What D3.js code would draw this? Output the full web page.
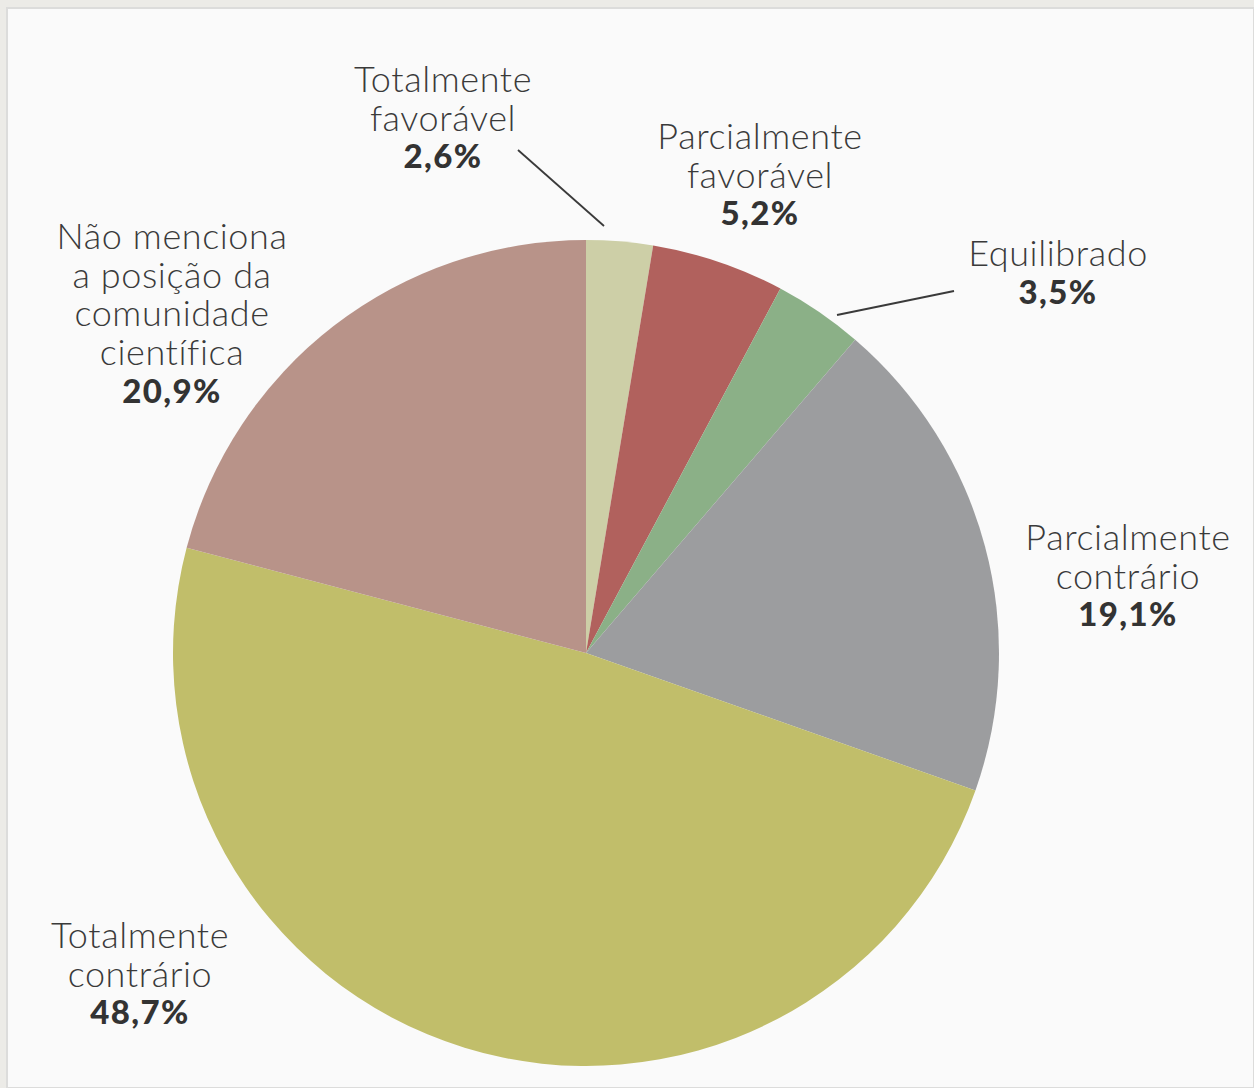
<!DOCTYPE html>
<html>
<head>
<meta charset="utf-8">
<script src="https://cdn.jsdelivr.net/npm/d3@7"></script>
<style>
  html, body { margin: 0; padding: 0; background: #ecebe7; }
  svg { display: block; }
</style>
</head>
<body>
<svg id="chart" width="1254" height="1088"></svg>
<script>
// Posição das notícias em relação à comunidade científica (%)
const categories = [
  "Totalmente favorável",
  "Parcialmente favorável",
  "Equilibrado",
  "Parcialmente contrário",
  "Totalmente contrário",
  "Não menciona a posição da comunidade científica"
];
const values = [2.6, 5.2, 3.5, 19.1, 48.7, 20.9];
const valueLabels = ["2,6%", "5,2%", "3,5%", "19,1%", "48,7%", "20,9%"];
// Line breaks used for each category label
const labelLines = [
  ["Totalmente", "favorável"],
  ["Parcialmente", "favorável"],
  ["Equilibrado"],
  ["Parcialmente", "contrário"],
  ["Totalmente", "contrário"],
  ["Não menciona", "a posição da", "comunidade", "científica"]
];

// Styling and layout
const colors = ["#cdcfa7", "#b1615d", "#8bb087", "#9c9d9f", "#c1be6a", "#b89389"];
const labelAnchors = [
  { x: 443, y: 92 },
  { x: 760, y: 149 },
  { x: 1058, y: 266 },
  { x: 1128, y: 550 },
  { x: 140, y: 948 },
  { x: 172, y: 249 }
];
const leaders = [
  { i: 0, x1: 518, y1: 150, x2: 604, y2: 226 },
  { i: 2, x1: 954, y1: 291, x2: 837, y2: 315 }
];

const W = 1254, H = 1088;
const cx = 586, cy = 653, R = 413;
const lineH = 38.7;

const svg = d3.select("#chart");

// panel
svg.append("rect")
  .attr("x", 7).attr("y", 8)
  .attr("width", W - 7).attr("height", H - 8)
  .attr("fill", "#fafafa")
  .attr("stroke", "#dcdcdb").attr("stroke-width", 2);

const pie = d3.pie().sort(null).value(d => d)
  .startAngle(0).endAngle(2 * Math.PI);
const arc = d3.arc().innerRadius(0).outerRadius(R);

const g = svg.append("g").attr("transform", `translate(${cx},${cy})`);
g.selectAll("path")
  .data(pie(values))
  .join("path")
  .attr("d", arc)
  .attr("fill", (d, i) => colors[i]);

// leader lines
svg.selectAll("line.leader")
  .data(leaders)
  .join("line")
  .attr("class", "leader")
  .attr("x1", d => d.x1).attr("y1", d => d.y1)
  .attr("x2", d => d.x2).attr("y2", d => d.y2)
  .attr("stroke", "#3a3a3a").attr("stroke-width", 1.8);

// labels
const lab = svg.selectAll("g.label")
  .data(categories.map((c, i) => i))
  .join("g")
  .attr("class", "label")
  .attr("transform", i => `translate(${labelAnchors[i].x},${labelAnchors[i].y})`);

lab.each(function(i) {
  const t = d3.select(this);
  labelLines[i].forEach((ln, k) => {
    t.append("text")
      .attr("y", k * lineH)
      .attr("text-anchor", "middle")
      .attr("font-family", "Lato, 'Noto Sans', sans-serif")
      .attr("font-weight", 300)
      .attr("font-size", 36)
      .attr("letter-spacing", 0.6)
      .attr("fill", "#3a3a3a")
      .text(ln);
  });
  t.append("text")
    .attr("y", labelLines[i].length * lineH - 1)
    .attr("text-anchor", "middle")
    .attr("font-family", "Lato, 'Noto Sans', sans-serif")
    .attr("font-weight", 900)
    .attr("font-size", 33)
    .attr("letter-spacing", 1.4)
    .attr("fill", "#333333")
    .text(valueLabels[i]);
});
</script>
</body>
</html>
